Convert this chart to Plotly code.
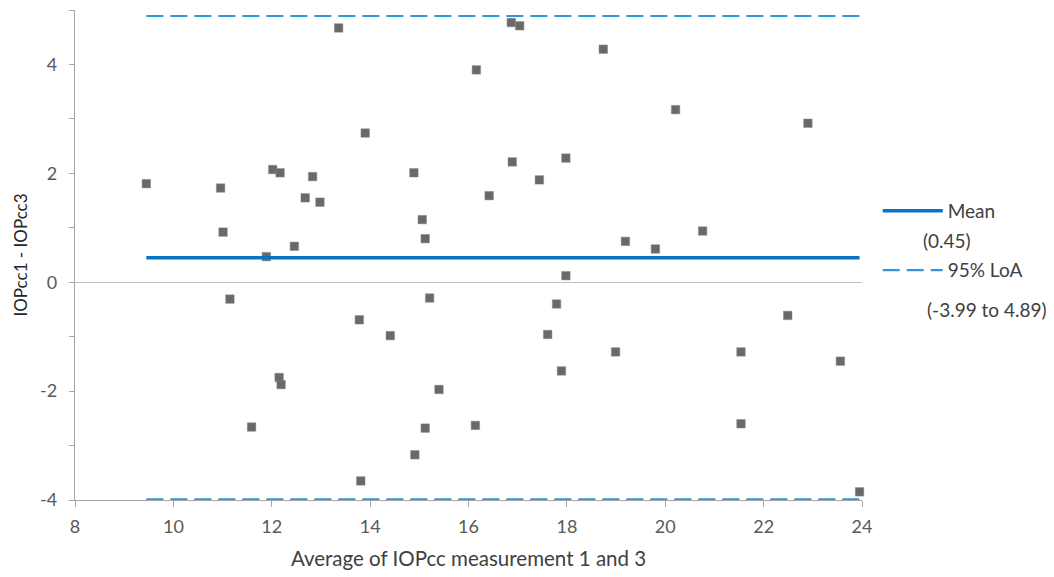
import plotly.graph_objects as go

# Average of IOPcc measurement 1 and 3
avg = [9.45, 10.96, 11.01, 11.89, 12.02, 12.17, 12.46, 12.68, 12.83, 12.98,
       13.36, 13.90, 14.89, 15.06, 15.12, 16.16,
       16.87, 17.04, 18.74, 16.42, 16.89, 17.98, 17.44, 20.21, 22.90, 19.19,
       19.80, 20.76, 17.98,
       11.15, 13.78, 14.41, 15.21, 12.15, 12.19, 15.40, 11.59, 15.12, 16.14,
       14.91, 13.81,
       17.79, 17.61, 17.89, 18.99, 21.54, 22.49, 23.56, 21.54, 23.95]
# Difference IOPcc1 - IOPcc3
diff = [1.81, 1.73, 0.92, 0.47, 2.07, 2.01, 0.66, 1.55, 1.94, 1.47,
        4.67, 2.74, 2.01, 1.15, 0.80, 3.90,
        4.77, 4.71, 4.28, 1.59, 2.21, 2.28, 1.88, 3.17, 2.92, 0.75,
        0.61, 0.94, 0.12,
        -0.31, -0.69, -0.98, -0.29, -1.75, -1.88, -1.97, -2.66, -2.68, -2.63,
        -3.17, -3.65,
        -0.40, -0.96, -1.63, -1.28, -1.28, -0.61, -1.45, -2.60, -3.85]

mean_diff = 0.45
loa_low, loa_high = -3.99, 4.89
x_ticks = [8, 10, 12, 14, 16, 18, 20, 22, 24]
y_ticks = [-4, -2, 0, 2, 4]
y_tick_labels = ["-4", "-2", "0", "2", "4"]

FONT = "Lato"
TXT = "#595959"
LEG = "#404040"

x_lo, x_hi = min(avg), max(avg)

fig = go.Figure()
fig.add_trace(go.Scatter(
    x=avg, y=diff, mode="markers", showlegend=False,
    marker=dict(symbol="square", size=8.5, color="#696969",
                line=dict(color="#8a8a8a", width=0.5)),
    cliponaxis=False, hoverinfo="x+y"))
fig.add_trace(go.Scatter(
    x=[x_lo, x_hi], y=[mean_diff, mean_diff], mode="lines", name="Mean",
    line=dict(color="#0a74c4", width=3.5), legend="legend"))
fig.add_trace(go.Scatter(
    x=[x_lo, x_hi, None, x_lo, x_hi], y=[loa_high, loa_high, None, loa_low, loa_low],
    mode="lines", name="95% LoA", connectgaps=False,
    line=dict(color="#2f98dc", width=2.2, dash="17px,7px"), legend="legend2",
    cliponaxis=False))

# the page body adds an 8px offset, margins compensate for it
fig.update_layout(
    width=1054, height=577,
    margin=dict(l=66.5, r=200, t=2, b=85),
    plot_bgcolor="white", paper_bgcolor="white",
    font=dict(family=FONT, size=18, color=TXT),
    xaxis=dict(range=[8, 24], tickvals=x_ticks, showgrid=False, zeroline=False,
               automargin=False,
               showline=True, linecolor="#a6a6a6", linewidth=1.3,
               ticks="outside", ticklen=6, tickcolor="#a6a6a6",
               ticklabelstandoff=4,
               tickfont=dict(size=18, color=TXT),
               title=dict(text="Average of IOPcc measurement 1 and 3",
                          font=dict(size=20.5, color="#404040"), standoff=15)),
    yaxis=dict(range=[-4, 5], tickvals=y_ticks, ticktext=y_tick_labels,
               showgrid=False, automargin=False,
               zeroline=True, zerolinecolor="#bfbfbf", zerolinewidth=1.3,
               showline=True, linecolor="#a6a6a6", linewidth=1.3,
               ticks="outside", ticklen=5, tickcolor="#a6a6a6",
               ticklabelstandoff=8,
               minor=dict(dtick=1, ticks="outside", ticklen=5, tickcolor="#a6a6a6"),
               tickfont=dict(size=18, color=TXT),
               title=dict(text="IOPcc1 - IOPcc3",
                          font=dict(size=17, color="#262626"), standoff=8)),
    legend=dict(x=1.02, y=0.59, xanchor="left", yanchor="middle",
                bgcolor="rgba(0,0,0,0)", font=dict(size=19, color=LEG),
                itemwidth=60),
    legend2=dict(x=1.02, y=0.469, xanchor="left", yanchor="middle",
                 bgcolor="rgba(0,0,0,0)", font=dict(size=19, color=LEG),
                 itemwidth=60),
    annotations=[
        dict(text="(0.45)", x=1.108, y=0.5286, xref="paper", yref="paper",
             xanchor="center", yanchor="middle",
             showarrow=False, font=dict(size=19, color=LEG)),
        dict(text="(-3.99 to 4.89)", x=1.1587, y=0.3878, xref="paper", yref="paper",
             xanchor="center", yanchor="middle",
             showarrow=False, font=dict(size=19, color=LEG)),
    ],
)

fig.write_html("out.html")
